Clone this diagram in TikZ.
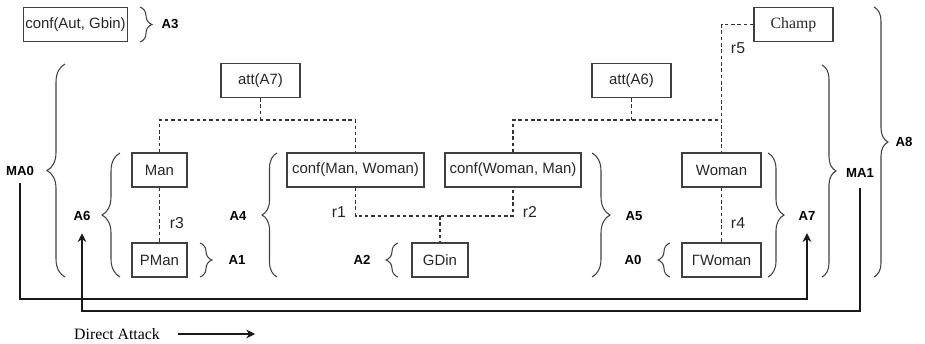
\documentclass[tikz,border=0pt]{standalone}
\usepackage{fontspec}
\setmainfont{Liberation Serif}
\setsansfont{Liberation Sans}
\usetikzlibrary{positioning, arrows.meta, decorations.pathreplacing}

\begin{document}
\begin{tikzpicture}[
            x=0.02cm, y=-0.02cm,
            >={Stealth[length=5pt,width=5pt]},
            arg/.style={draw=black!75, line width=0.6pt, rectangle, minimum height=0.68cm, inner sep=1pt, text=black!85, font=\sffamily\fontsize{8.5}{10}\selectfont},
            rel/.style={draw=black!80, line width=0.6pt, dash pattern=on 2pt off 1.6pt},
            brk/.style={draw=black!75, line width=0.6pt, decorate, decoration={brace, amplitude=#1}},
            brk/.default=0.3cm,
            lab/.style={inner sep=1pt, font=\sffamily\bfseries\fontsize{7.5}{9}\selectfont},
            rlab/.style={inner sep=1pt, text=black!85, font=\sffamily\fontsize{9}{10}\selectfont},
            atk/.style={draw=black!90, line width=0.6pt, ->},
        ]
            \useasboundingbox (0,0) rectangle (925,344);

            % Arguments
            \node[arg, minimum width=2.06cm] (cag) at (75.5,24.5) {conf(Aut, Gbin)};
            \node[arg, minimum width=1.58cm, font=\rmfamily\fontsize{9}{10}\selectfont] (champ) at (793.5,24.5) {Champ};
            \node[arg, minimum width=1.58cm] (att7) at (260.5,80.5) {att(A7)};
            \node[arg, minimum width=1.58cm] (att6) at (631.5,80.5) {att(A6)};
            \node[arg, minimum width=1.1cm] (man) at (159.5,170) {Man};
            \node[arg, minimum width=1.1cm] (pman) at (159.5,260) {PMan};
            \node[arg, minimum width=2.74cm] (cmw) at (355.5,170) {conf(Man, Woman)};
            \node[arg, minimum width=2.72cm] (cwm) at (513,170) {conf(Woman, Man)};
            \node[arg, minimum width=1.12cm] (gdin) at (440,260) {GDin};
            \node[arg, minimum width=1.58cm] (woman) at (721.5,170) {Woman};
            \node[arg, minimum width=1.58cm] (nwoman) at (721.5,260) {ΓWoman};

            % Rules (dashed)
            \coordinate (j7) at (260.5,120);
            \coordinate (j6) at (631.5,120);
            \coordinate (jg) at (440,216);
            \draw[rel] (att7) -- (j7);
            \draw[rel] (man) |- (j7) -| (cmw);
            \draw[rel] (att6) -- (j6);
            \draw[rel] (cwm) |- (j6) -| (woman);
            \draw[rel] (champ) -| (woman);
            \draw[rel] (man) -- (pman);
            \draw[rel] (woman) -- (nwoman);
            \draw[rel] (cmw) |- (jg) -| (cwm);
            \draw[rel] (jg) -- (gdin);

            \node[rlab] (r1) at (339,212) {r1};
            \node[rlab] (r2) at (530,212) {r2};
            \node[rlab] (r3) at (177,223) {r3};
            \node[rlab] (r4) at (738,223) {r4};
            \node[rlab] (r5) at (738,48) {r5};

            % Braces
            \draw[brk=0.24cm] (140,7) -- (140,42);
            \draw[brk=0.24cm] (200,243) -- (200,277);
            \draw[brk=0.36cm] (120,277) -- (120,153);
            \draw[brk=0.36cm] (65,277) -- (65,64);
            \draw[brk] (277,277) -- (277,153);
            \draw[brk=0.24cm] (398,277) -- (398,243);
            \draw[brk=0.36cm] (592,153) -- (592,277);
            \draw[brk=0.24cm] (670,277) -- (670,243);
            \draw[brk=0.32cm] (768,153) -- (768,277);
            \draw[brk=0.28cm] (822,65) -- (822,277);
            \draw[brk=0.28cm] (874,7) -- (874,277);

            \node[lab] (a3) at (170,24) {A3};
            \node[lab] (a1) at (237,260) {A1};
            \node[lab] (a6) at (82,216) {A6};
            \node[lab] (ma0) at (20,171) {MA0};
            \node[lab] (a4) at (238,216) {A4};
            \node[lab] (a2) at (362,260) {A2};
            \node[lab] (a5) at (634,216) {A5};
            \node[lab] (a0) at (633,260) {A0};
            \node[lab] (a7) at (807,216) {A7};
            \node[lab] (ma1) at (860,173) {MA1};
            \node[lab] (a8) at (904,142) {A8};

            % Direct attacks
            \coordinate (lo1) at (0,299);
            \coordinate (lo2) at (0,311);
            \draw[atk] ([yshift=-3pt]ma0.south) -- (ma0 |- lo1) -| ([yshift=-6pt]a7.south);
            \draw[atk] ([yshift=-5pt]ma1.south) -- (ma1 |- lo2) -| ([yshift=-6pt]a6.south);

            % Legend
            \node[font=\rmfamily\fontsize{9}{10}\selectfont] (legend) at (117,334) {Direct Attack};
            \coordinate (legtip) at (255,334);
            \draw[atk] ([xshift=7pt]legend.east) -- (legtip);
\end{tikzpicture}
\end{document}
